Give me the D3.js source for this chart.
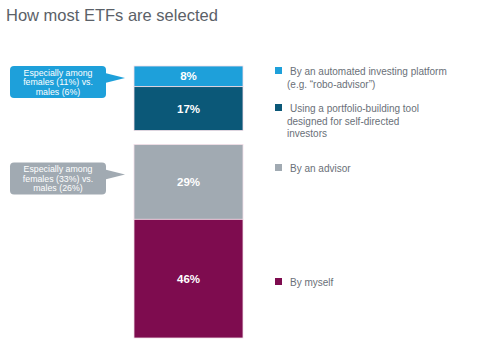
<!DOCTYPE html>
<html lang="en">
<head>
<meta charset="utf-8">
<title>How most ETFs are selected</title>
<script src="https://d3js.org/d3.v7.min.js"></script>
<style>
  body { margin: 0; background: #fff; font-family: 'Liberation Sans', Arial, sans-serif; }
</style>
</head>
<body>
<div id="chart"></div>
<script>
// data
var categories = [
  ["By an automated investing platform", "(e.g. \u201crobo-advisor\u201d)"],
  ["Using a portfolio-building tool", "designed for self-directed", "investors"],
  ["By an advisor"],
  ["By myself"]
];
var values = [8, 17, 29, 46];
var labels = ["8%", "17%", "29%", "46%"];
var colors = ["#1ea0da", "#0b5878", "#a1aab2", "#7e0c4f"];
var callouts = [
  { segment: 0, lines: ["Especially among", "females (11%) vs.", "males (6%)"], color: "#1ea0da" },
  { segment: 2, lines: ["Especially among", "females (33%) vs.", "males (26%)"], color: "#a1aab2" }
];

var width = 500, height = 364;
var svg = d3.select("#chart").append("svg")
  .attr("width", width).attr("height", height);

// title
svg.append("text")
  .attr("x", 6).attr("y", 21)
  .attr("font-size", 16.5)
  .attr("fill", "#5b6168")
  .text("How most ETFs are selected");

// stacked bar, with a gap after the second segment
var gap = 14;
var y = d3.scaleLinear().domain([0, 100]).range([66, 324]);
var x0 = 134, barW = 109;

var cum = 0;
var segs = values.map(function(v, i) {
  var s = { i: i, v: v, y0: y(cum) + (i >= 2 ? gap : 0), y1: y(cum + v) + (i >= 2 ? gap : 0) };
  cum += v;
  return s;
});

svg.selectAll("rect.seg")
  .data(segs).enter().append("rect")
  .attr("class", "seg")
  .attr("x", x0).attr("width", barW)
  .attr("y", function(d) { return d.y0; })
  .attr("height", function(d) { return d.y1 - d.y0; })
  .attr("fill", function(d) { return colors[d.i]; })
  .attr("stroke", "#f3dfe8")
  .attr("stroke-width", 0.8);

svg.selectAll("text.val")
  .data(segs).enter().append("text")
  .attr("class", "val")
  .attr("x", x0 + barW / 2)
  .attr("y", function(d) { return (d.y0 + d.y1) / 2 + 4; })
  .attr("text-anchor", "middle")
  .attr("font-size", 11.5)
  .attr("font-weight", "bold")
  .attr("fill", "#fff")
  .text(function(d) { return labels[d.i]; });

// legend
var legendY = [75, 112, 172, 286];
var lg = svg.selectAll("g.legend")
  .data(categories).enter().append("g")
  .attr("class", "legend")
  .attr("transform", function(d, i) { return "translate(275," + legendY[i] + ")"; });

lg.append("rect")
  .attr("x", 0).attr("y", -8).attr("width", 7).attr("height", 7)
  .attr("fill", function(d, i) { return colors[i]; });

lg.append("text")
  .attr("x", 15).attr("y", 0)
  .attr("font-size", 10)
  .attr("fill", "#6a7078")
  .selectAll("tspan")
  .data(function(d) { return d; }).enter().append("tspan")
  .attr("x", function(d, i) { return i === 0 ? 15 : 12; })
  .attr("dy", function(d, i) { return i === 0 ? 0 : 12.5; })
  .text(function(d) { return d; });

// callouts
var cg = svg.selectAll("g.callout")
  .data(callouts).enter().append("g")
  .attr("class", "callout")
  .attr("transform", function(d) {
    var s = segs[d.segment];
    return "translate(10," + (s.y0 + (d.segment === 0 ? 0 : 18)) + ")";
  });

cg.append("rect")
  .attr("width", 96).attr("height", 32).attr("rx", 4)
  .attr("fill", function(d) { return d.color; });

cg.append("path")
  .attr("d", "M95,7 L115,12 L95,17 Z")
  .attr("fill", function(d) { return d.color; });

cg.append("text")
  .attr("x", 48).attr("y", 9.5)
  .attr("text-anchor", "middle")
  .attr("font-size", 8.8)
  .attr("fill", "#fff")
  .selectAll("tspan")
  .data(function(d) { return d.lines; }).enter().append("tspan")
  .attr("x", 48)
  .attr("dy", function(d, i) { return i === 0 ? 0 : 9.5; })
  .text(function(d) { return d; });
</script>
</body>
</html>
